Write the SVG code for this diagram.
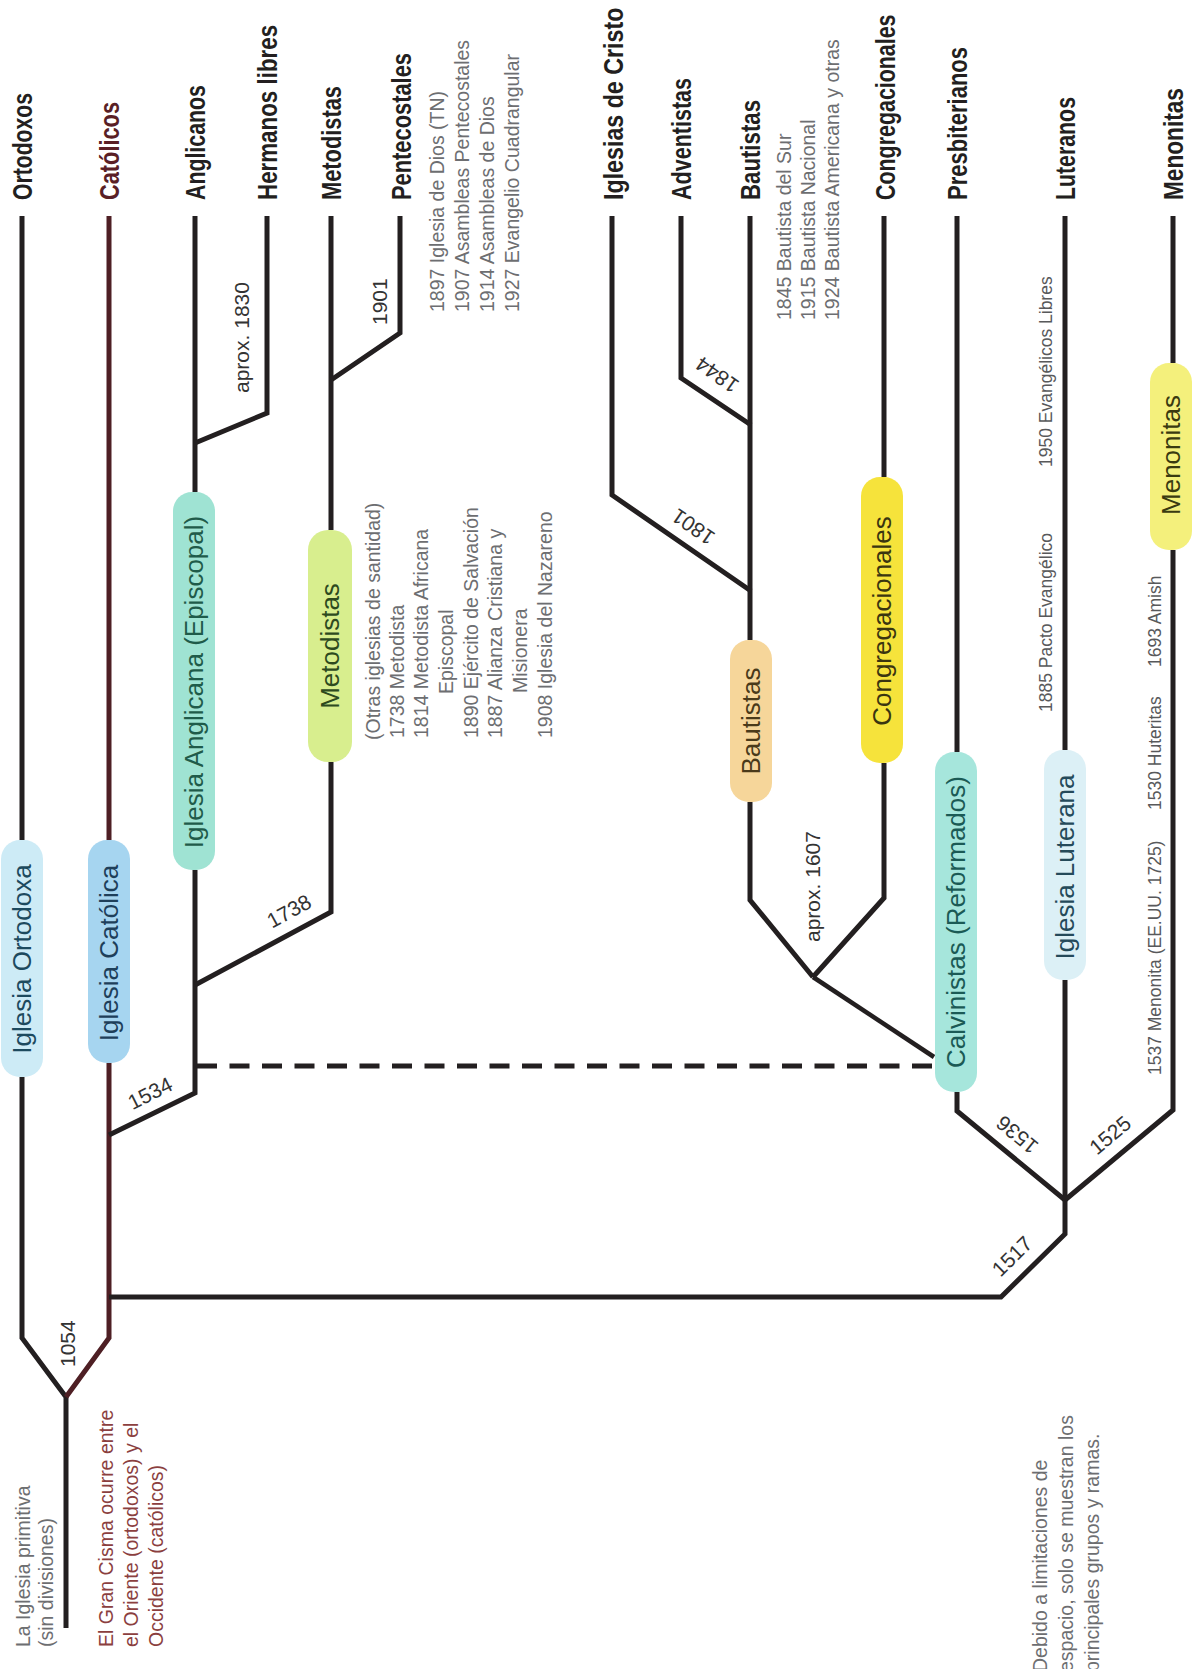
<svg xmlns="http://www.w3.org/2000/svg" width="1192" height="1669" viewBox="0 0 1192 1669">
<style>
.ln{fill:none;stroke:#231f20;stroke-width:5;stroke-linejoin:miter;stroke-miterlimit:10}
.cat{stroke:#4e1f24}
.dash{stroke-dasharray:20 12.5}
text{font-family:"Liberation Sans",Arial,sans-serif}
.lbl{font-weight:bold;font-size:28px;fill:#231f20}
.pt{font-size:26px;text-anchor:middle}
.yr{font-size:21px;fill:#333;text-anchor:middle}
.yv{font-size:21px;fill:#333}
.nt{font-size:19.5px;fill:#6d6e71}
.sm{font-size:17.5px;fill:#58595b}
.cis{font-size:19.5px;fill:#8b3f3f}
</style>
<rect width="1192" height="1669" fill="#ffffff"/>

<g id="connectors">
  <polyline class="ln" points="66,1628 66,1397 22,1338 22,1077"/>
  <polyline class="ln" points="22,840 22,216"/>
  <polyline class="ln cat" points="66,1397 109,1338 109,1063"/>
  <polyline class="ln cat" points="109,840 109,216"/>
  <polyline class="ln" points="109,1297 1001,1297 1065,1234 1065,1200"/>
  <polyline class="ln" points="109,1135 195,1093 195,870"/>
  <polyline class="ln" points="195,492 195,216"/>
  <polyline class="ln" points="195,443 267,413 267,216"/>
  <polyline class="ln" points="195,985 331,912 331,762"/>
  <polyline class="ln" points="331,530 331,216"/>
  <polyline class="ln" points="331,380 400,333 400,216"/>
  <line class="ln dash" x1="197" y1="1066" x2="936" y2="1066"/>
  <polyline class="ln" points="1065,1200 957,1111 957,1092"/>
  <polyline class="ln" points="957,752 957,216"/>
  <polyline class="ln" points="1065,1200 1065,980"/>
  <polyline class="ln" points="1065,750 1065,216"/>
  <polyline class="ln" points="1065,1200 1173,1110 1173,550"/>
  <polyline class="ln" points="1173,363 1173,216"/>
  <polyline class="ln" style="stroke-width:4.5" points="934,1057 813,977"/>
  <polyline class="ln" points="813,977 750,900 750,802"/>
  <polyline class="ln" points="750,640 750,216"/>
  <polyline class="ln" points="813,977 884,898 884,763"/>
  <polyline class="ln" points="884,477 884,216"/>
  <polyline class="ln" points="751,591 612,495 612,216"/>
  <polyline class="ln" points="751,425 681,378 681,216"/>
</g>

<g id="year-labels">
  <text class="yv" transform="translate(75,1367) rotate(-90)">1054</text>
  <text class="yr" transform="translate(150,1093) rotate(-26.6)" y="7.5">1534</text>
  <text class="yr" transform="translate(289,911) rotate(-28.6)" y="7.5">1738</text>
  <text class="yv" transform="translate(249,393) rotate(-90)">aprox. 1830</text>
  <text class="yv" transform="translate(387,325) rotate(-90)">1901</text>
  <text class="yr" transform="translate(693,527) rotate(214.9)" y="7.5">1801</text>
  <text class="yr" transform="translate(717,375) rotate(215.2)" y="7.5">1844</text>
  <text class="yv" transform="translate(820,942) rotate(-90)">aprox. 1607</text>
  <text class="yr" transform="translate(1017,1135) rotate(219.4)" y="7.5">1536</text>
  <text class="yr" transform="translate(1110,1135) rotate(-40)" y="7.5">1525</text>
  <text class="yr" transform="translate(1012,1256) rotate(-44.5)" y="7.5">1517</text>
</g>

<g id="node-ortodoxos">
  <text class="lbl" transform="translate(32,200) rotate(-90) scale(0.756,1)">Ortodoxos</text>
  <rect x="1" y="840" width="42" height="237" rx="19" fill="#cdebf6"/>
  <text class="pt" fill="#1d4a5e" transform="translate(31,959) rotate(-90)">Iglesia Ortodoxa</text>
</g>
<g id="node-catolicos">
  <text class="lbl" style="fill:#5a1f26" transform="translate(119,200) rotate(-90) scale(0.778,1)">Católicos</text>
  <rect x="88" y="840" width="42" height="223" rx="19" fill="#a6d5f0"/>
  <text class="pt" fill="#1e3f5a" transform="translate(118,953) rotate(-90)">Iglesia Católica</text>
</g>
<g id="node-anglicanos">
  <text class="lbl" transform="translate(205,200) rotate(-90) scale(0.762,1)">Anglicanos</text>
  <rect x="173" y="492" width="42" height="378" rx="19" fill="#9fe3d3"/>
  <text class="pt" fill="#1f5b4a" transform="translate(203,682) rotate(-90)">Iglesia Anglicana (Episcopal)</text>
</g>
<g id="node-hermanos">
  <text class="lbl" transform="translate(277,200) rotate(-90) scale(0.798,1)">Hermanos libres</text>
</g>
<g id="node-metodistas">
  <text class="lbl" transform="translate(341,200) rotate(-90) scale(0.78,1)">Metodistas</text>
  <rect x="308" y="530" width="44" height="232" rx="20" fill="#d8ee8e"/>
  <text class="pt" fill="#2d4a1e" transform="translate(339,646) rotate(-90)">Metodistas</text>
  <g class="nt">
    <text transform="translate(380,740) rotate(-90)">(Otras iglesias de santidad)</text>
    <text transform="translate(404,738) rotate(-90)">1738 Metodista</text>
    <text transform="translate(428,738) rotate(-90)">1814 Metodista Africana</text>
    <text transform="translate(453,694) rotate(-90)">Episcopal</text>
    <text transform="translate(478,738) rotate(-90)">1890 Ejército de Salvación</text>
    <text transform="translate(502,738) rotate(-90)">1887 Alianza Cristiana y</text>
    <text transform="translate(527,693) rotate(-90)">Misionera</text>
    <text transform="translate(552,738) rotate(-90)">1908 Iglesia del Nazareno</text>
  </g>
</g>
<g id="node-pentecostales">
  <text class="lbl" transform="translate(411,200) rotate(-90) scale(0.781,1)">Pentecostales</text>
  <g class="nt">
    <text transform="translate(444,312) rotate(-90)">1897 Iglesia de Dios (TN)</text>
    <text transform="translate(469,312) rotate(-90)">1907 Asambleas Pentecostales</text>
    <text transform="translate(494,312) rotate(-90)">1914 Asambleas de Dios</text>
    <text transform="translate(519,312) rotate(-90)">1927 Evangelio Cuadrangular</text>
  </g>
</g>
<g id="node-iglesias-cristo">
  <text class="lbl" transform="translate(623,200) rotate(-90) scale(0.83,1)">Iglesias de Cristo</text>
</g>
<g id="node-adventistas">
  <text class="lbl" transform="translate(691,200) rotate(-90) scale(0.769,1)">Adventistas</text>
</g>
<g id="node-bautistas">
  <text class="lbl" transform="translate(760,200) rotate(-90) scale(0.794,1)">Bautistas</text>
  <rect x="730" y="640" width="42" height="162" rx="19" fill="#f6d69a"/>
  <text class="pt" fill="#4a3a1a" transform="translate(760,721) rotate(-90)">Bautistas</text>
  <g class="nt">
    <text transform="translate(791,320) rotate(-90)">1845 Bautista del Sur</text>
    <text transform="translate(815,320) rotate(-90)">1915 Bautista Nacional</text>
    <text transform="translate(839,320) rotate(-90)">1924 Bautista Americana y otras</text>
  </g>
</g>
<g id="node-congregacionales">
  <text class="lbl" transform="translate(895,200) rotate(-90) scale(0.765,1)">Congregacionales</text>
  <rect x="861" y="477" width="42" height="286" rx="19" fill="#f6e33b"/>
  <text class="pt" fill="#3a3510" transform="translate(891,621) rotate(-90)">Congregacionales</text>
</g>
<g id="node-presbiterianos">
  <text class="lbl" transform="translate(967,200) rotate(-90) scale(0.787,1)">Presbiterianos</text>
  <rect x="935" y="752" width="42" height="340" rx="19" fill="#a6e6dc"/>
  <text class="pt" fill="#1b5a55" transform="translate(965,922) rotate(-90)">Calvinistas (Reformados)</text>
</g>
<g id="node-luteranos">
  <text class="lbl" transform="translate(1075,200) rotate(-90) scale(0.761,1)">Luteranos</text>
  <rect x="1044" y="750" width="42" height="230" rx="19" fill="#dcf0f6"/>
  <text class="pt" fill="#254a5a" transform="translate(1074,867) rotate(-90)">Iglesia Luterana</text>
  <g class="sm">
    <text transform="translate(1052,712) rotate(-90)">1885 Pacto Evangélico</text>
    <text transform="translate(1052,467) rotate(-90)">1950 Evangélicos Libres</text>
  </g>
</g>
<g id="node-menonitas">
  <text class="lbl" transform="translate(1183,200) rotate(-90) scale(0.809,1)">Menonitas</text>
  <rect x="1150" y="363" width="42" height="187" rx="19" fill="#f4f07c"/>
  <text class="pt" fill="#3a3a10" transform="translate(1180,455) rotate(-90)">Menonitas</text>
  <g class="sm">
    <text transform="translate(1161,1075) rotate(-90)">1537 Menonita (EE.UU. 1725)</text>
    <text transform="translate(1161,810) rotate(-90)">1530 Huteritas</text>
    <text transform="translate(1161,667) rotate(-90)">1693 Amish</text>
  </g>
</g>

<g id="notes">
  <text class="nt" transform="translate(30,1647) rotate(-90)">La Iglesia primitiva</text>
  <text class="nt" transform="translate(53,1647) rotate(-90)">(sin divisiones)</text>
  <text class="cis" transform="translate(113,1647) rotate(-90)">El Gran Cisma ocurre entre</text>
  <text class="cis" transform="translate(138,1647) rotate(-90)">el Oriente (ortodoxos) y el</text>
  <text class="cis" transform="translate(163,1647) rotate(-90)">Occidente (católicos)</text>
  <text class="nt" transform="translate(1047,1672) rotate(-90)">Debido a limitaciones de</text>
  <text class="nt" transform="translate(1073,1672) rotate(-90)">espacio, solo se muestran los</text>
  <text class="nt" transform="translate(1099,1672) rotate(-90)">principales grupos y ramas.</text>
</g>
</svg>
